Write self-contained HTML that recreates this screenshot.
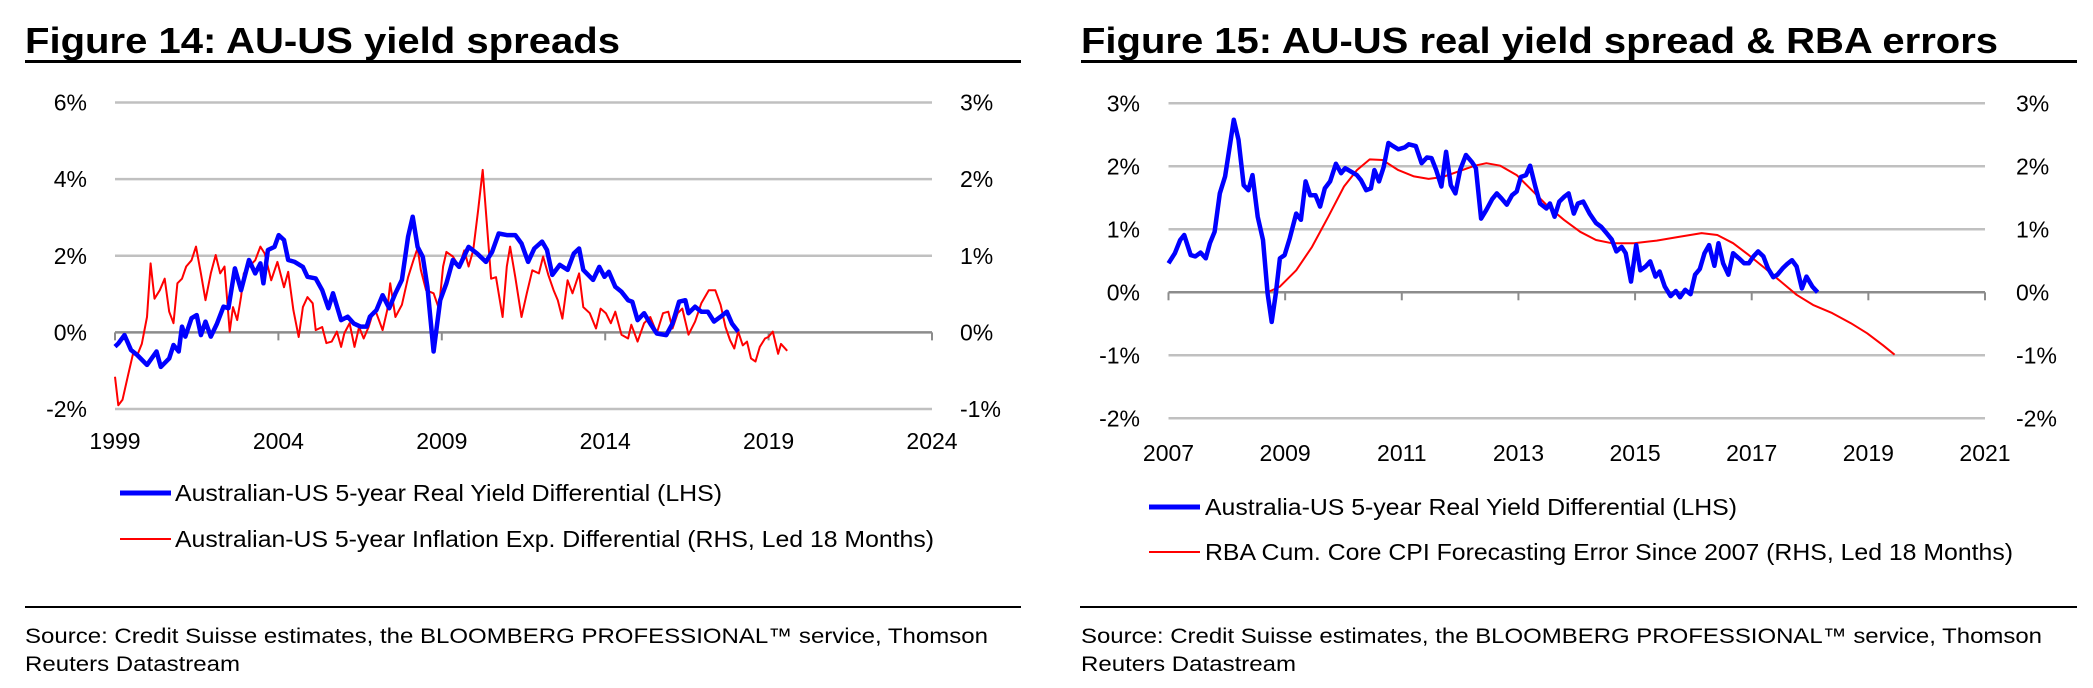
<!DOCTYPE html>
<html><head><meta charset="utf-8">
<style>
html,body{margin:0;padding:0;background:#fff;}
svg{display:block;font-family:"Liberation Sans",Arial,sans-serif;}
</style></head>
<body>
<svg id="s" width="2093" height="688" viewBox="0 0 2093 688" xmlns="http://www.w3.org/2000/svg">
<g>
<text x="25" y="53" font-size="36" font-weight="bold" textLength="595" lengthAdjust="spacingAndGlyphs">Figure 14: AU-US yield spreads</text>
<rect x="25" y="60" width="996" height="3" fill="#000"/>
<g id="c1"></g>
<line x1="120" y1="493" x2="171" y2="493" stroke="#0000ff" stroke-width="5"/>
<text x="175" y="501" font-size="23" textLength="547" lengthAdjust="spacingAndGlyphs">Australian-US 5-year Real Yield Differential (LHS)</text>
<line x1="120" y1="539" x2="171" y2="539" stroke="#ff0000" stroke-width="2"/>
<text x="175" y="547" font-size="23" textLength="759" lengthAdjust="spacingAndGlyphs">Australian-US 5-year Inflation Exp. Differential (RHS, Led 18 Months)</text>
<rect x="25" y="606" width="996" height="2" fill="#000"/>
<text x="25" y="643" font-size="21" textLength="963" lengthAdjust="spacingAndGlyphs">Source: Credit Suisse estimates, the BLOOMBERG PROFESSIONAL™ service, Thomson</text>
<text x="25" y="671" font-size="21" textLength="215" lengthAdjust="spacingAndGlyphs">Reuters Datastream</text>
</g>
<g>
<text x="1081" y="53" font-size="36" font-weight="bold" textLength="917" lengthAdjust="spacingAndGlyphs">Figure 15: AU-US real yield spread &amp; RBA errors</text>
<rect x="1081" y="60" width="996" height="3" fill="#000"/>
<g id="c2"></g>
<line x1="1149" y1="507" x2="1200" y2="507" stroke="#0000ff" stroke-width="5"/>
<text x="1205" y="515" font-size="23" textLength="532" lengthAdjust="spacingAndGlyphs">Australia-US 5-year Real Yield Differential (LHS)</text>
<line x1="1149" y1="552" x2="1200" y2="552" stroke="#ff0000" stroke-width="2"/>
<text x="1205" y="560" font-size="23" textLength="808" lengthAdjust="spacingAndGlyphs">RBA Cum. Core CPI Forecasting Error Since 2007 (RHS, Led 18 Months)</text>
<rect x="1080" y="606" width="997" height="2" fill="#000"/>
<text x="1081" y="643" font-size="21" textLength="961" lengthAdjust="spacingAndGlyphs">Source: Credit Suisse estimates, the BLOOMBERG PROFESSIONAL™ service, Thomson</text>
<text x="1081" y="671" font-size="21" textLength="215" lengthAdjust="spacingAndGlyphs">Reuters Datastream</text>
</g>
</svg>
<script>
// ---- Figure 14 data ----
const f14LeftTicks = [6, 4, 2, 0, -2];
const f14RightTicks = [3, 2, 1, 0, -1];
const f14XTicks = [1999, 2004, 2009, 2014, 2019, 2024];
const f14BlueYears = [1999.00,1999.10,1999.29,1999.49,1999.68,1999.98,2000.27,2000.40,2000.66,2000.79,2000.95,2001.05,2001.15,2001.34,2001.50,2001.63,2001.77,2001.93,2002.12,2002.32,2002.47,2002.67,2002.86,2003.10,2003.29,2003.45,2003.54,2003.68,2003.88,2004.01,2004.17,2004.30,2004.50,2004.75,2004.89,2005.14,2005.34,2005.53,2005.67,2005.92,2006.12,2006.31,2006.51,2006.70,2006.80,2007.00,2007.19,2007.39,2007.58,2007.78,2007.97,2008.11,2008.26,2008.42,2008.56,2008.75,2008.95,2009.14,2009.34,2009.53,2009.82,2010.08,2010.35,2010.54,2010.74,2010.99,2011.25,2011.44,2011.64,2011.83,2012.07,2012.22,2012.38,2012.61,2012.85,2013.04,2013.20,2013.33,2013.63,2013.82,2013.98,2014.11,2014.31,2014.50,2014.70,2014.83,2014.99,2015.19,2015.38,2015.58,2015.87,2016.06,2016.26,2016.45,2016.55,2016.75,2016.94,2017.14,2017.33,2017.53,2017.72,2017.88,2018.07];
const f14BlueValues = [-0.37,-0.29,-0.07,-0.46,-0.59,-0.85,-0.50,-0.90,-0.68,-0.33,-0.50,0.15,-0.11,0.37,0.45,-0.07,0.28,-0.11,0.23,0.67,0.63,1.67,1.10,1.89,1.54,1.80,1.28,2.15,2.23,2.54,2.41,1.89,1.84,1.71,1.45,1.41,1.10,0.63,1.02,0.32,0.41,0.23,0.15,0.15,0.41,0.58,0.97,0.63,1.02,1.37,2.50,3.02,2.23,1.97,1.19,-0.50,0.84,1.28,1.89,1.71,2.23,2.06,1.84,2.10,2.58,2.54,2.54,2.32,1.84,2.19,2.37,2.15,1.50,1.76,1.63,2.06,2.19,1.63,1.37,1.71,1.45,1.58,1.19,1.06,0.84,0.80,0.32,0.50,0.23,-0.03,-0.07,0.23,0.80,0.84,0.50,0.67,0.54,0.54,0.28,0.41,0.54,0.23,0.02];
const f14RedYears = [1999.00,1999.10,1999.23,1999.39,1999.55,1999.68,1999.82,1999.98,2000.09,2000.21,2000.37,2000.52,2000.66,2000.79,2000.91,2001.05,2001.18,2001.34,2001.48,2001.63,2001.77,2001.93,2002.08,2002.22,2002.35,2002.51,2002.61,2002.74,2002.86,2002.94,2003.10,2003.29,2003.45,2003.58,2003.78,2003.97,2004.17,2004.30,2004.46,2004.62,2004.75,2004.89,2005.05,2005.14,2005.34,2005.47,2005.63,2005.79,2005.92,2006.02,2006.18,2006.33,2006.47,2006.61,2006.76,2006.90,2007.00,2007.19,2007.33,2007.42,2007.58,2007.78,2007.97,2008.13,2008.26,2008.36,2008.52,2008.75,2008.91,2009.04,2009.14,2009.34,2009.53,2009.69,2009.82,2009.96,2010.11,2010.25,2010.37,2010.51,2010.66,2010.86,2010.99,2011.09,2011.25,2011.44,2011.60,2011.77,2011.97,2012.10,2012.26,2012.42,2012.55,2012.69,2012.85,2013.00,2013.20,2013.33,2013.53,2013.72,2013.86,2014.02,2014.17,2014.31,2014.50,2014.70,2014.80,2014.99,2015.19,2015.38,2015.58,2015.77,2015.93,2016.06,2016.22,2016.36,2016.55,2016.75,2016.94,2017.17,2017.37,2017.53,2017.68,2017.82,2017.95,2018.07,2018.21,2018.34,2018.46,2018.60,2018.73,2018.89,2018.99,2019.13,2019.29,2019.38,2019.57];
const f14RedValues = [-0.58,-0.95,-0.88,-0.58,-0.28,-0.30,-0.15,0.20,0.90,0.44,0.55,0.70,0.27,0.12,0.64,0.70,0.86,0.94,1.12,0.77,0.42,0.77,1.01,0.77,0.86,0.01,0.33,0.16,0.47,0.77,0.86,0.94,1.12,1.03,0.68,0.92,0.59,0.79,0.29,-0.06,0.33,0.46,0.38,0.03,0.07,-0.14,-0.12,0.01,-0.19,-0.01,0.12,-0.19,0.07,-0.08,0.07,0.27,0.25,0.03,0.29,0.64,0.20,0.36,0.72,0.94,1.10,0.81,0.55,0.51,0.31,0.86,1.05,0.99,0.86,1.07,0.86,1.07,1.59,2.12,1.46,0.70,0.72,0.20,0.86,1.12,0.72,0.20,0.51,0.81,0.77,0.99,0.75,0.55,0.42,0.18,0.68,0.51,0.77,0.33,0.25,0.05,0.31,0.25,0.12,0.27,-0.03,-0.08,0.10,-0.12,0.12,0.20,-0.01,0.25,0.27,0.05,0.25,0.31,-0.03,0.14,0.38,0.55,0.55,0.36,0.07,-0.10,-0.21,0.01,-0.17,-0.12,-0.34,-0.38,-0.19,-0.08,-0.06,0.01,-0.28,-0.15,-0.24];

// ---- Figure 15 data ----
const f15LeftTicks = [3, 2, 1, 0, -1, -2];
const f15RightTicks = [3, 2, 1, 0, -1, -2];
const f15XTicks = [2007, 2009, 2011, 2013, 2015, 2017, 2019, 2021];
const f15BlueYears = [2007.00,2007.11,2007.20,2007.27,2007.38,2007.46,2007.55,2007.64,2007.71,2007.79,2007.88,2007.97,2008.04,2008.12,2008.20,2008.29,2008.37,2008.44,2008.53,2008.62,2008.70,2008.77,2008.84,2008.91,2008.99,2009.08,2009.19,2009.27,2009.35,2009.43,2009.52,2009.60,2009.68,2009.77,2009.87,2009.96,2010.03,2010.12,2010.23,2010.30,2010.39,2010.47,2010.53,2010.61,2010.69,2010.77,2010.85,2010.94,2011.05,2011.12,2011.24,2011.34,2011.43,2011.51,2011.59,2011.68,2011.76,2011.84,2011.92,2012.00,2012.10,2012.20,2012.27,2012.36,2012.45,2012.55,2012.63,2012.71,2012.80,2012.89,2012.97,2013.04,2013.13,2013.20,2013.29,2013.37,2013.48,2013.54,2013.62,2013.70,2013.79,2013.86,2013.95,2014.02,2014.11,2014.22,2014.33,2014.42,2014.51,2014.60,2014.68,2014.77,2014.84,2014.93,2015.02,2015.09,2015.18,2015.26,2015.35,2015.42,2015.51,2015.61,2015.70,2015.77,2015.86,2015.95,2016.03,2016.11,2016.19,2016.27,2016.36,2016.43,2016.51,2016.60,2016.68,2016.78,2016.87,2016.95,2017.03,2017.11,2017.20,2017.28,2017.37,2017.44,2017.53,2017.61,2017.69,2017.77,2017.86,2017.94,2018.04,2018.13];
const f15BlueValues = [0.46,0.62,0.83,0.91,0.59,0.57,0.63,0.54,0.78,0.96,1.57,1.84,2.26,2.74,2.42,1.70,1.62,1.86,1.20,0.83,-0.02,-0.47,-0.02,0.54,0.59,0.86,1.25,1.15,1.76,1.54,1.54,1.36,1.65,1.76,2.04,1.89,1.97,1.92,1.86,1.78,1.62,1.65,1.94,1.76,1.99,2.37,2.32,2.27,2.30,2.35,2.32,2.05,2.14,2.13,1.94,1.68,2.23,1.70,1.57,1.94,2.18,2.07,1.97,1.17,1.31,1.48,1.57,1.49,1.39,1.54,1.60,1.83,1.86,2.01,1.68,1.41,1.33,1.41,1.20,1.44,1.52,1.57,1.25,1.41,1.44,1.25,1.10,1.04,0.94,0.84,0.65,0.72,0.62,0.17,0.75,0.35,0.41,0.49,0.25,0.33,0.09,-0.06,0.02,-0.08,0.04,-0.03,0.28,0.37,0.62,0.75,0.42,0.78,0.46,0.28,0.62,0.54,0.46,0.46,0.57,0.65,0.57,0.38,0.24,0.28,0.38,0.45,0.51,0.41,0.06,0.25,0.09,0.00];
const f15RedYears = [2008.70,2008.91,2009.19,2009.46,2009.74,2010.01,2010.23,2010.45,2010.67,2010.94,2011.21,2011.46,2011.70,2011.98,2012.25,2012.45,2012.69,2012.97,2013.23,2013.51,2013.78,2014.06,2014.33,2014.60,2014.98,2015.37,2015.75,2016.14,2016.41,2016.68,2016.95,2017.23,2017.50,2017.77,2018.05,2018.38,2018.70,2018.98,2019.25,2019.45];
const f15RedValues = [0.00,0.09,0.35,0.72,1.20,1.68,1.94,2.11,2.10,1.94,1.84,1.80,1.83,1.92,2.01,2.05,2.01,1.86,1.62,1.36,1.15,0.96,0.83,0.78,0.78,0.82,0.88,0.94,0.91,0.78,0.59,0.38,0.17,-0.04,-0.20,-0.33,-0.49,-0.65,-0.84,-0.99];

const NS = "http://www.w3.org/2000/svg";
function mk(parent, tag, attrs, text) {
  const e = document.createElementNS(NS, tag);
  for (const k in attrs) e.setAttribute(k, attrs[k]);
  if (text !== undefined) e.textContent = text;
  parent.appendChild(e);
  return e;
}

function drawChart(g, cfg) {
  const x = v => cfg.x0 + (v - cfg.xMin) / (cfg.xMax - cfg.xMin) * (cfg.x1 - cfg.x0);
  const yL = v => cfg.yTop + (cfg.lMax - v) / (cfg.lMax - cfg.lMin) * (cfg.yBot - cfg.yTop);
  const yR = v => cfg.yTop + (cfg.rMax - v) / (cfg.rMax - cfg.rMin) * (cfg.yBot - cfg.yTop);
  cfg.leftTicks.forEach((t, i) => {
    const yy = yL(t);
    if (t !== 0) {
      const gl = mk(g, "line", {x1: cfg.x0, x2: cfg.x1, y1: yy, y2: yy, stroke: "#c0c0c0", "stroke-width": 2.5});
      
      
    }
    const lt = mk(g, "text", {x: cfg.lLabelX, y: yy + 8, "font-size": 23, "text-anchor": "end"}, t + "%");
    
    
    const rt = mk(g, "text", {x: cfg.rLabelX, y: yR(cfg.rightTicks[i]) + 8, "font-size": 23}, cfg.rightTicks[i] + "%");
    
    
  });
  const y0 = yL(0);
  const ax = mk(g, "line", {x1: cfg.x0, x2: cfg.x1, y1: y0, y2: y0, stroke: "#8c8c8c", "stroke-width": 2.5});
  
  
  cfg.xTicks.forEach(t => {
    const xx = x(t);
    const tk = mk(g, "line", {x1: xx, x2: xx, y1: y0, y2: y0 + 8, stroke: "#8c8c8c", "stroke-width": 2});
    
    
    const tl = mk(g, "text", {x: xx, y: cfg.xLabelY, "font-size": 23, "text-anchor": "middle"}, String(t));
    
    
  });
  const pts = (xs, vs, f) => xs.map((a, i) => x(a).toFixed(1) + "," + f(vs[i]).toFixed(1)).join(" ");
  const red = mk(g, "polyline", {points: pts(cfg.redX, cfg.redV, yR), fill: "none", stroke: "#ff0000", "stroke-width": 2, "stroke-linejoin": "round"});
  
  
  const blue = mk(g, "polyline", {points: pts(cfg.blueX, cfg.blueV, yL), fill: "none", stroke: "#0000ff", "stroke-width": 4.5, "stroke-linejoin": "round"});
  
  
}

drawChart(document.getElementById("c1"), {
  x0: 115, x1: 932, xMin: 1999, xMax: 2024,
  yTop: 102.5, yBot: 409, lMax: 6, lMin: -2, rMax: 3, rMin: -1,
  leftTicks: f14LeftTicks, rightTicks: f14RightTicks, xTicks: f14XTicks,
  lLabelX: 87, rLabelX: 960, xLabelY: 449,
  blueX: f14BlueYears, blueV: f14BlueValues, redX: f14RedYears, redV: f14RedValues,
  blueName: "real-yield-differential-line", redName: "inflation-exp-differential-line"
});
drawChart(document.getElementById("c2"), {
  x0: 1168.5, x1: 1985, xMin: 2007, xMax: 2021,
  yTop: 103.3, yBot: 418.3, lMax: 3, lMin: -2, rMax: 3, rMin: -2,
  leftTicks: f15LeftTicks, rightTicks: f15RightTicks, xTicks: f15XTicks,
  lLabelX: 1140, rLabelX: 2016, xLabelY: 461,
  blueX: f15BlueYears, blueV: f15BlueValues, redX: f15RedYears, redV: f15RedValues,
  blueName: "real-yield-differential-line-2", redName: "rba-forecast-error-line"
});
</script>
</body></html>
